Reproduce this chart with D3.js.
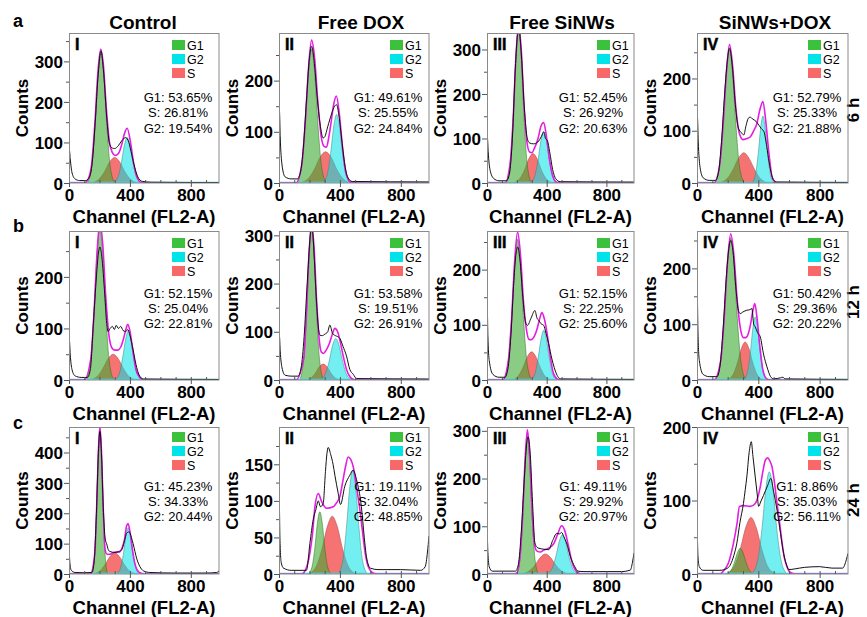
<!DOCTYPE html>
<html>
<head>
<meta charset="utf-8">
<script src="https://cdn.jsdelivr.net/npm/d3@7"></script>
<style>
body { margin: 0; background: #fff; }
text { font-family: "Liberation Sans", Arial, sans-serif; }
</style>
</head>
<body>
<script>

// ---- data (channel, counts) ----
var rowLetters = ["a", "b", "c"];
var rowTimes = ["6 h", "12 h", "24 h"];
var groups = ["Control", "Free DOX", "Free SiNWs", "SiNWs+DOX"];
var numerals = ["I", "II", "III", "IV"];
var channelTicks = [0, 400, 800];

// y axis top per panel (row-major: a-I..a-IV, b-I.., c-I..)
var yMax = [370, 293, 337, 287, 289, 309, 270, 267, 484, 201, 308, 200];
var yTicks = [
  [0, 100, 200, 300], [0, 100, 200], [0, 100, 200, 300], [0, 100, 200],
  [0, 100, 200], [0, 100, 200, 300], [0, 100, 200], [0, 100, 200],
  [0, 100, 200, 300, 400], [0, 50, 100, 150], [0, 100, 200, 300], [0, 100, 200]
];
var pctG1 = ["53.65", "49.61", "52.45", "52.79", "52.15", "53.58", "52.15", "50.42", "45.23", "19.11", "49.11", "8.86"];
var pctS  = ["26.81", "25.55", "26.92", "25.33", "25.04", "19.51", "22.25", "29.36", "34.33", "32.04", "29.92", "35.03"];
var pctG2 = ["19.54", "24.84", "20.63", "21.88", "22.81", "26.91", "25.60", "20.22", "20.44", "48.85", "20.97", "56.11"];

var g1Peaks = [
  [[120,0],[150,43],[171,138],[192,267],[210,320],[228,267],[249,138],[270,43],[300,0]],
  [[118,0],[150,35],[172,113],[195,219],[214,262],[233,219],[256,113],[278,35],[310,0]],
  [[128,0],[156,47],[176,148],[195,288],[212,345],[229,288],[248,148],[268,47],[296,0]],
  [[116,0],[148,34],[170,110],[193,213],[212,255],[231,213],[254,110],[276,34],[308,0]],
  [[113,0],[143,40],[164,127],[185,246],[203,295],[221,246],[242,127],[263,40],[293,0]],
  [[136,0],[162,43],[180,135],[198,263],[214,315],[230,263],[248,135],[266,43],[292,0]],
  [[112,0],[143,34],[165,110],[186,213],[205,255],[224,213],[245,110],[267,34],[298,0]],
  [[121,0],[154,34],[177,110],[200,213],[220,255],[240,213],[263,110],[286,34],[319,0]],
  [[152,0],[169,65],[181,206],[193,401],[203,480],[213,401],[225,206],[237,65],[254,0]],
  [[193,0],[218,11],[236,37],[253,71],[268,85],[283,71],[300,37],[318,11],[343,0]],
  [[199,0],[223,39],[240,125],[257,242],[271,290],[285,242],[302,125],[319,39],[343,0]],
  [[192,0],[222,5],[243,15],[264,29],[282,35],[300,29],[321,15],[342,5],[372,0]]
];
var sPeaks = [
  [[144,0],[196,9],[232,27],[269,53],[300,63],[331,53],[368,27],[404,9],[456,0]],
  [[132,0],[190,8],[231,26],[271,51],[306,61],[341,51],[381,26],[422,8],[480,0]],
  [[173,0],[218,9],[250,28],[281,55],[308,66],[335,55],[366,28],[398,9],[443,0]],
  [[140,0],[195,8],[234,25],[272,48],[305,58],[338,48],[377,25],[415,8],[470,0]],
  [[134,0],[186,7],[222,22],[259,42],[290,50],[321,42],[358,22],[394,7],[446,0]],
  [[170,0],[210,4],[238,14],[266,28],[290,33],[314,28],[342,14],[370,4],[410,0]],
  [[164,0],[209,7],[240,22],[272,43],[299,51],[326,43],[358,22],[389,7],[434,0]],
  [[194,0],[234,9],[262,29],[290,57],[314,68],[338,57],[366,29],[394,9],[434,0]],
  [[150,0],[200,9],[235,30],[270,58],[300,70],[330,58],[365,30],[400,9],[450,0]],
  [[194,0],[246,11],[282,34],[319,66],[350,79],[381,66],[418,34],[454,11],[506,0]],
  [[226,0],[281,6],[320,18],[358,35],[391,42],[424,35],[463,18],[501,6],[556,0]],
  [[187,0],[242,10],[281,33],[319,64],[352,77],[385,64],[424,33],[462,10],[517,0]]
];
var g2Peaks = [
  [[292,0],[322,15],[343,48],[364,94],[382,112],[400,94],[421,48],[442,15],[472,0]],
  [[288,0],[318,18],[339,58],[360,112],[378,134],[396,112],[417,58],[438,18],[468,0]],
  [[290,0],[320,16],[341,49],[362,96],[380,115],[398,96],[419,49],[440,16],[470,0]],
  [[358,0],[382,17],[399,55],[416,107],[430,128],[444,107],[461,55],[478,17],[502,0]],
  [[302,0],[331,13],[351,41],[372,79],[389,95],[406,79],[427,41],[447,13],[476,0]],
  [[268,0],[303,12],[328,37],[352,72],[373,86],[394,72],[419,37],[443,12],[478,0]],
  [[293,0],[322,12],[342,39],[363,75],[380,90],[397,75],[418,39],[438,12],[467,0]],
  [[305,0],[330,15],[348,49],[365,94],[380,113],[395,94],[413,49],[430,15],[455,0]],
  [[314,0],[339,21],[357,65],[374,127],[389,152],[404,127],[421,65],[439,21],[464,0]],
  [[388,0],[420,19],[442,61],[465,119],[484,142],[503,119],[526,61],[548,19],[580,0]],
  [[400,0],[435,11],[460,35],[484,68],[505,82],[526,68],[550,35],[575,11],[610,0]],
  [[358,0],[396,19],[423,60],[449,116],[472,139],[495,116],[521,60],[548,19],[586,0]]
];
var fitLines = [
  [[0,0],[100,0],[115,3],[145,36],[170,147],[190,274],[208,330],[226,290],[245,185],[265,102],[285,75],[302,68],[325,73],[345,93],[365,123],[382,135],[405,98],[425,48],[445,16],[475,1],[515,0],[985,0]],
  [[0,0],[110,0],[150,37],[172,117],[195,229],[214,279],[233,247],[256,155],[278,89],[295,72],[312,70],[325,86],[339,112],[360,155],[377,170],[396,135],[417,70],[438,22],[468,2],[500,0],[985,0]],
  [[0,0],[120,0],[156,47],[176,149],[195,291],[212,352],[229,302],[248,175],[268,91],[285,70],[300,68],[320,80],[341,99],[362,128],[380,136],[398,105],[419,52],[440,16],[470,1],[500,0],[985,0]],
  [[0,0],[110,0],[148,34],[170,110],[193,215],[212,265],[231,228],[254,142],[276,95],[300,83],[325,85],[347,88],[370,100],[391,114],[410,140],[430,156],[448,120],[467,63],[480,30],[489,12],[510,2],[530,0],[985,0]],
  [[0,0],[100,0],[143,41],[164,129],[185,251],[203,306],[221,265],[242,159],[263,85],[282,62],[300,58],[320,58],[340,64],[358,80],[375,100],[386,108],[400,95],[420,55],[440,20],[465,5],[490,0],[985,0]],
  [[0,0],[110,0],[162,44],[180,137],[198,266],[214,322],[230,276],[248,158],[266,78],[278,58],[292,55],[310,62],[330,75],[350,95],[367,107],[385,100],[405,75],[425,45],[445,20],[470,5],[500,0],[985,0]],
  [[0,0],[105,0],[143,35],[165,112],[186,218],[205,268],[224,228],[245,140],[265,90],[280,74],[295,73],[315,78],[335,92],[352,110],[368,122],[385,110],[405,80],[425,40],[445,12],[470,2],[500,0],[985,0]],
  [[0,0],[110,0],[154,34],[177,110],[200,214],[220,262],[240,226],[263,140],[286,88],[303,76],[318,76],[333,82],[348,98],[365,125],[377,137],[392,110],[410,60],[430,18],[455,2],[480,0],[985,0]],
  [[0,0],[140,0],[169,66],[181,208],[193,404],[203,485],[213,405],[225,215],[237,80],[250,65],[270,65],[290,70],[310,72],[330,72],[350,88],[365,115],[378,158],[388,166],[400,140],[415,85],[430,40],[445,15],[465,4],[490,0],[985,0]],
  [[0,0],[150,0],[170,4],[203,29],[220,55],[236,92],[258,110],[280,99],[312,90],[356,92],[380,98],[400,106],[420,128],[437,147],[454,160],[470,157],[487,147],[510,118],[531,88],[550,55],[563,33],[580,14],[596,6],[620,1],[650,0],[985,0]],
  [[0,0],[180,0],[199,2],[223,42],[240,130],[257,250],[271,302],[285,252],[302,135],[319,60],[335,48],[358,46],[380,50],[420,55],[450,65],[475,85],[500,101],[520,92],[545,60],[570,25],[600,5],[630,0],[985,0]],
  [[0,0],[150,0],[172,4],[205,15],[238,42],[262,70],[277,92],[303,93],[347,92],[380,96],[413,119],[430,140],[446,155],[461,158],[475,154],[489,146],[505,125],[522,96],[540,68],[555,42],[570,22],[587,10],[609,2],[640,0],[985,0]]
];
var countLines = [
  [[0,0],[3,80],[8,60],[20,25],[40,10],[70,6],[110,6],[135,15],[155,60],[172,150],[192,270],[210,326],[228,270],[248,160],[267,95],[285,86],[300,85],[324,92],[348,105],[373,112],[393,100],[412,70],[432,38],[452,15],[481,4],[540,2],[985,1]],
  [[0,0],[3,140],[8,90],[20,35],[40,12],[80,8],[120,8],[140,20],[160,70],[180,160],[200,245],[214,267],[230,240],[250,170],[270,115],[290,88],[300,90],[320,110],[345,135],[365,150],[378,153],[392,135],[410,90],[430,40],[450,12],[480,3],[985,2]],
  [[0,0],[3,100],[8,70],[20,30],[45,10],[80,5],[130,5],[150,20],[170,100],[190,260],[212,350],[230,290],[250,170],[270,100],[285,90],[310,88],[340,92],[365,105],[380,115],[392,100],[405,95],[420,70],[440,30],[460,10],[490,3],[985,2]],
  [[0,0],[3,125],[8,80],[20,30],[40,10],[80,5],[120,5],[140,20],[160,80],[180,170],[200,240],[212,258],[230,225],[250,150],[270,105],[290,96],[305,92],[320,110],[335,124],[347,126],[365,122],[385,118],[405,110],[420,104],[437,98],[455,70],[470,40],[485,18],[500,5],[520,2],[985,1]],
  [[0,0],[3,75],[8,50],[20,20],[40,8],[80,5],[120,5],[140,20],[160,110],[180,200],[195,250],[203,258],[215,240],[235,165],[248,110],[256,94],[270,100],[285,104],[298,98],[310,106],[325,100],[340,104],[355,96],[373,94],[385,98],[400,87],[420,60],[440,30],[460,10],[487,2],[985,1]],
  [[0,0],[3,90],[8,60],[20,25],[40,10],[80,8],[125,8],[145,25],[165,90],[185,200],[205,300],[214,330],[225,290],[245,170],[260,105],[269,93],[285,92],[301,95],[320,100],[334,114],[351,97],[370,92],[385,90],[400,86],[420,70],[443,50],[465,22],[487,12],[510,3],[985,2]],
  [[0,0],[2,126],[6,80],[15,35],[40,10],[80,5],[120,5],[140,20],[160,80],[180,180],[195,230],[205,241],[220,220],[240,150],[258,105],[271,99],[295,112],[321,126],[335,112],[347,108],[362,102],[380,99],[395,85],[413,66],[435,38],[456,18],[475,6],[495,2],[985,1]],
  [[0,0],[2,150],[6,90],[15,35],[40,10],[80,6],[130,6],[150,25],[170,90],[190,180],[210,240],[220,250],[235,230],[255,160],[270,125],[282,119],[300,122],[325,125],[345,126],[358,128],[370,100],[380,95],[395,85],[413,77],[435,45],[456,24],[480,6],[500,2],[545,4],[560,5],[575,2],[985,1]],
  [[0,0],[2,63],[6,35],[15,12],[40,5],[100,4],[150,5],[165,40],[180,200],[193,400],[203,470],[213,400],[225,220],[238,115],[247,100],[258,80],[269,74],[301,71],[325,74],[345,79],[365,110],[378,134],[395,139],[410,120],[421,100],[445,50],[465,25],[490,10],[531,5],[700,3],[900,3],[970,5],[985,10]],
  [[0,0],[2,97],[6,50],[15,15],[30,8],[80,5],[180,5],[203,42],[225,75],[242,88],[258,100],[272,92],[290,96],[305,140],[315,165],[323,173],[340,163],[355,150],[367,135],[389,110],[404,95],[432,120],[465,135],[487,142],[509,129],[541,92],[560,50],[574,24],[600,8],[650,6],[800,6],[930,5],[960,10],[975,30],[985,52]],
  [[0,0],[2,75],[6,45],[15,15],[35,6],[100,6],[190,6],[210,20],[230,90],[250,200],[265,270],[275,287],[290,250],[305,150],[321,65],[335,56],[347,54],[380,52],[413,51],[440,70],[467,85],[485,84],[500,87],[515,78],[533,65],[560,35],[587,16],[610,6],[650,5],[900,5],[960,8],[975,25],[985,44]],
  [[0,0],[2,49],[6,25],[15,10],[40,5],[150,5],[200,8],[240,25],[260,42],[280,70],[303,96],[315,115],[325,132],[340,165],[354,180],[365,160],[380,132],[392,110],[402,92],[415,98],[434,107],[460,120],[482,130],[500,112],[522,87],[545,55],[565,28],[585,12],[598,6],[640,7],[700,9],[800,10],[880,8],[950,8],[975,20],[985,28]]
];

// ---- layout ----
var width = 867, height = 617;
var lefts = [69, 279, 487, 697],
    widths = [150, 150, 147, 151],
    tops = [33, 231, 427],
    heights = [150, 149, 147];
var titleX = [143, 361, 562, 775];
var legendDx = [-47, -39, -37, -40];
var legendDy = [[7, 21, 35], [7, 21, 35], [5, 19, 33]];
var statDy = [[69, 84, 100], [67, 82, 97], [64, 79, 94]];

var colG1 = "#3cc13c", colG2 = "#00e3e8", colS = "#f86868";

var svg = d3.select("body").append("svg")
  .attr("width", width)
  .attr("height", height);

svg.append("rect").attr("width", width).attr("height", height).attr("fill", "#fff");

// column titles
svg.selectAll(".coltitle")
  .data(groups)
  .enter().append("text")
  .attr("x", function(d, i) { return titleX[i]; })
  .attr("y", 29)
  .attr("text-anchor", "middle")
  .style("font-size", "19px")
  .style("font-weight", "bold")
  .text(function(d) { return d; });

// row letters and time labels
svg.selectAll(".rowletter")
  .data(rowLetters)
  .enter().append("text")
  .attr("x", 13)
  .attr("y", function(d, i) { return [27, 232, 429][i]; })
  .style("font-size", "18px")
  .style("font-weight", "bold")
  .text(function(d) { return d; });

svg.selectAll(".rowtime")
  .data(rowTimes)
  .enter().append("text")
  .attr("transform", function(d, i) { return "translate(859," + [110, 302, 500][i] + ")rotate(-90)"; })
  .attr("text-anchor", "middle")
  .style("font-size", "17px")
  .style("font-weight", "bold")
  .text(function(d) { return d; });

var defs = svg.append("defs");

for (var r = 0; r < 3; r++) {
  for (var c = 0; c < 4; c++) {
    drawPanel(r, c);
  }
}

function drawPanel(r, c) {
  var p = r * 4 + c,
      w = widths[c],
      h = heights[r];

  var x = d3.scaleLinear().domain([0, 985]).range([0, w]),
      y = d3.scaleLinear().domain([0, yMax[p]]).range([h, 0]);

  var g = svg.append("g")
    .attr("transform", "translate(" + lefts[c] + "," + tops[r] + ")");

  defs.append("clipPath").attr("id", "clip" + p)
    .append("rect").attr("width", w).attr("height", h);

  var plot = g.append("g").attr("clip-path", "url(#clip" + p + ")");

  var area = d3.area()
    .x(function(d) { return x(d[0]); })
    .y0(h)
    .y1(function(d) { return y(d[1]); })
    .curve(d3.curveMonotoneX);

  var line = d3.line()
    .x(function(d) { return x(d[0]); })
    .y(function(d) { return y(d[1]); })
    .curve(d3.curveMonotoneX);

  plot.append("path").datum(sPeaks[p])
    .attr("d", area)
    .attr("fill", "rgb(245,100,100)")
    .attr("fill-opacity", 0.9)
    .attr("stroke", "#a04040").attr("stroke-width", 0.5);

  plot.append("path").datum(g1Peaks[p])
    .attr("d", area)
    .attr("fill", "rgb(60,170,50)")
    .attr("fill-opacity", 0.6)
    .attr("stroke", "#2c6a20").attr("stroke-width", 0.5);

  plot.append("path").datum(g2Peaks[p])
    .attr("d", area)
    .attr("fill", "rgb(0,225,230)")
    .attr("fill-opacity", 0.55)
    .attr("stroke", "#3a8080").attr("stroke-width", 0.5);

  // baseline of the fitted components
  plot.append("line")
    .attr("x1", 0).attr("x2", w)
    .attr("y1", h - 0.5).attr("y2", h - 0.5)
    .attr("stroke", "#3fe0e8").attr("stroke-width", 1.5);

  plot.append("path").datum(fitLines[p])
    .attr("d", line)
    .attr("fill", "none")
    .attr("stroke", "#e31ee3")
    .attr("stroke-width", 1.6);

  plot.append("path").datum(countLines[p])
    .attr("d", line)
    .attr("fill", "none")
    .attr("stroke", "#111")
    .attr("stroke-width", 1);

  // frame
  g.append("rect")
    .attr("x", 0.5).attr("y", 0.5)
    .attr("width", w - 0.5).attr("height", h - 0.5)
    .attr("fill", "none")
    .attr("stroke", "#8a8a8a")
    .attr("stroke-width", 1);

  // axes
  var step = yTicks[p][1] - yTicks[p][0];
  var minorY = d3.range(step / 2, yMax[p], step);

  g.append("g")
    .call(d3.axisLeft(y).tickValues(minorY).tickSize(3).tickFormat(""))
    .call(tidyAxis);

  g.append("g")
    .call(d3.axisLeft(y).tickValues(yTicks[p]).tickSize(5).tickPadding(1).tickFormat(d3.format("d")))
    .call(tidyAxis)
    .selectAll("text")
    .style("font-size", "17px")
    .style("font-weight", "bold")
    .attr("dy", "0.36em");

  g.append("g")
    .attr("transform", "translate(0," + h + ")")
    .call(d3.axisBottom(x).tickValues(d3.range(100, 985, 100)).tickSize(-3).tickFormat(""))
    .call(tidyAxis);

  g.append("g")
    .attr("transform", "translate(0," + h + ")")
    .call(d3.axisBottom(x).tickValues(channelTicks).tickSize(4).tickPadding(2).tickFormat(d3.format("d")))
    .call(tidyAxis)
    .selectAll("text")
    .style("font-size", "17px")
    .style("font-weight", "bold");

  // axis titles
  g.append("text")
    .attr("transform", "translate(-41," + (h / 2) + ")rotate(-90)")
    .attr("text-anchor", "middle")
    .style("font-size", "17px")
    .style("font-weight", "bold")
    .text("Counts");

  g.append("text")
    .attr("x", w / 2)
    .attr("y", h + 40)
    .attr("text-anchor", "middle")
    .style("font-size", "18.5px")
    .style("font-weight", "bold")
    .text("Channel (FL2-A)");

  // panel numeral
  g.append("text")
    .attr("x", 6)
    .attr("y", 17)
    .style("font-size", "16px")
    .style("font-weight", "bold")
    .attr("stroke", "#000")
    .attr("stroke-width", 0.5)
    .text(numerals[c]);

  // legend
  var legend = [["G1", colG1], ["G2", colG2], ["S", colS]];
  var lg = g.selectAll(".leg")
    .data(legend)
    .enter().append("g")
    .attr("transform", function(d, i) { return "translate(" + (w + legendDx[c]) + "," + legendDy[r][i] + ")"; });

  lg.append("rect")
    .attr("width", 13).attr("height", 10)
    .attr("fill", function(d) { return d[1]; });

  lg.append("text")
    .attr("x", 15)
    .attr("y", 9.5)
    .style("font-size", "12.5px")
    .text(function(d) { return d[0]; });

  // percentages
  var stats = ["G1: " + pctG1[p] + "%", "S: " + pctS[p] + "%", "G2: " + pctG2[p] + "%"];
  g.selectAll(".stat")
    .data(stats)
    .enter().append("text")
    .attr("x", w - 41)
    .attr("y", function(d, i) { return statDy[r][i]; })
    .attr("text-anchor", "middle")
    .style("font-size", "13px")
    .text(function(d) { return d; });
}

function tidyAxis(sel) {
  sel.select(".domain").remove();
  sel.selectAll("line").attr("stroke", "#555");
  sel.selectAll("text").attr("fill", "#000").style("font-family", "'Liberation Sans', Arial, sans-serif");
}

</script>
</body>
</html>
